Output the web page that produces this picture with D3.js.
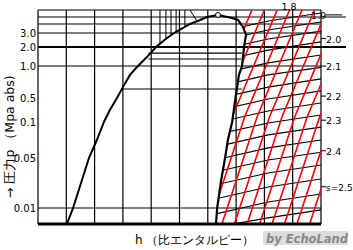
<!DOCTYPE html>
<html>
<head>
<meta charset="utf-8">
<script src="https://cdn.jsdelivr.net/npm/d3@7/dist/d3.min.js"></script>
<style>
  body { margin: 0; background: #fff; }
  text { font-family: "DejaVu Sans", sans-serif; }
</style>
</head>
<body>
<svg id="chart" width="353" height="250"></svg>
<script>
// enthalpy grid (no labels on the original, arbitrary units)
var hGrid = [0, 100, 200, 300, 400, 500, 600, 700, 800, 900, 1000];
// pressure (MPa abs)
var pGrid = [6, 5, 4, 3, 2, 1, 0.01];
var pTicks = [3.0, 2.0, 1.0, 0.5, 0.1, 0.05, 0.01];
var pTickLabels = ["3.0", "2.0", "1.0", "0.5", "0.1", "0.05", "0.01"];
var wetIsobars = [1.68, 1.37, 0.64];
var entropyLabels = ["1.8", "1.9", "2.0", "2.1", "2.2", "2.3", "2.4", "s=2.5"];

// saturated liquid line [h, p]
var satLiquid = [[102, 0.005], [124, 0.01], [180, 0.05], [208, 0.075], [233, 0.1],
  [254, 0.3], [279, 0.5], [300, 0.67], [325, 0.86], [353, 1], [385, 1.47], [417, 2],
  [456, 2.64], [481, 3], [505, 3.44], [537, 4], [573, 4.57], [597, 5], [636, 5.29]];
// saturated vapour line [h, p]
var satVapor = [[636, 5.29], [686, 4.86], [707, 4.57], [724, 3.67], [735, 2.86],
  [728, 2], [721, 1], [710, 0.86], [698, 0.5], [686, 0.1], [671, 0.075],
  [661, 0.05], [647, 0.032], [633, 0.01], [629, 0.005]];
var critical = [636, 5.29];

// compressed liquid isotherms near the top, [h at 6 MPa, h and p on liquid line]
var liqIso = [[431, 431, 2.23], [452, 452, 2.57], [470, 470, 2.85], [488, 488, 3.1],
  [519, 519, 3.7], [537, 562, 4.4]];

// superheat region lines, p at h = 625, 813, 1000
var shH = [625, 813, 1000];
var shLines = [
  [3.0, 4.43, 5.57], [2.36, 3.33, 4.29], [1.79, 2.57, 3.22], [1.21, 1.84, 2.36],
  [0.86, 1.16, 1.58], [0.67, 0.86, 0.98], [0.483, 0.67, 0.80], [0.283, 0.483, 0.61],
  [0.0986, 0.283, 0.417], [0.082, 0.0986, 0.217], [0.065, 0.082, 0.093],
  [0.0484, 0.064, 0.075], [0.0388, 0.0484, 0.058], [0.0284, 0.038, 0.0444],
  [0.0172, 0.0268, 0.0332], [0.0081, 0.0148, 0.0212], [0.004, 0.0069, 0.0094]];

// constant entropy lines, h at p = 0.005, 0.183, 6
var sP = [0.005, 0.183, 6];
var sLines = [
  [474, 597, 756], [518, 641, 800], [562, 686, 845], [606, 730, 889],
  [650, 774, 933], [694, 818, 977], [739, 862, 1021], [783, 907, 1066],
  [827, 951, 1110], [871, 995, 1154], [915, 1039, 1198], [960, 1083, 1242]];
// where the s labels sit (h, MPa)
var sLabelH = [860, 965, 1018, 1018, 1018, 1018, 1018, 1018];
var sLabelP = [6.6, 5.3, 2.6, 1.0, 0.53, 0.13, 0.06, 0.027];

var svg = d3.select("#chart");
var x = d3.scaleLinear().domain([0, 1000]).range([38, 321]);
// the original pressure axis is hand drawn, not a true log scale
var y = d3.scaleLinear()
  .domain([0.005, 0.01, 0.05, 0.1, 0.5, 1, 2, 3, 4, 5, 6])
  .range([224, 208, 158, 122, 98, 66, 47, 33, 24, 17, 10]);

var line = d3.line().x(function (d) { return x(d[0]); }).y(function (d) { return y(d[1]); });

// clip to superheat region: right of saturated vapour line
var clipPts = [[686, 6], [1000, 6], [1000, 0.005]].concat(satVapor.slice(1).reverse());
svg.append("clipPath").attr("id", "shclip")
  .append("path").attr("d", line(clipPts) + "Z");

var g = svg.append("g");

// grid
g.selectAll(".vgrid").data(hGrid).enter().append("line")
  .attr("x1", function (d) { return x(d); }).attr("x2", function (d) { return x(d); })
  .attr("y1", y(6)).attr("y2", y(0.005))
  .attr("stroke", "#000").attr("stroke-width", 1.2);
g.selectAll(".hgrid").data(pGrid).enter().append("line")
  .attr("x1", x(0))
  .attr("x2", function (d) { return (d === 2 || d === 5) ? x(1000) + 25 : x(1000); })
  .attr("y1", function (d) { return y(d); }).attr("y2", function (d) { return y(d); })
  .attr("stroke", "#000").attr("stroke-width", function (d) { return d === 2 ? 2 : 1.2; });

// isobars inside the dome
g.selectAll(".wet").data(wetIsobars).enter().append("line")
  .attr("x1", function (d) { return x(d > 1 ? 390 : 300); }).attr("x2", x(720))
  .attr("y1", function (d) { return y(d); }).attr("y2", function (d) { return y(d); })
  .attr("stroke", "#000").attr("stroke-width", 1.1);

// compressed liquid isotherms
g.selectAll(".liso").data(liqIso).enter().append("path")
  .attr("d", function (d) { return line([[d[0], 6], [d[1], d[2]]]); })
  .attr("fill", "none").attr("stroke", "#000").attr("stroke-width", 1);

// superheat lines
var sh = g.append("g").attr("clip-path", "url(#shclip)");
sh.selectAll(".shl").data(shLines).enter().append("path")
  .attr("d", function (d) { return line(d.map(function (p, i) { return [shH[i], p]; })); })
  .attr("fill", "none").attr("stroke", "#000").attr("stroke-width", 1.2);

// entropy lines
sh.selectAll(".sl").data(sLines).enter().append("path")
  .attr("d", function (d) { return line(d.map(function (h, i) { return [h, sP[i]]; })); })
  .attr("fill", "none").attr("stroke", "#f00").attr("stroke-width", 1.6);

// saturation dome
g.append("path").attr("d", line(satLiquid))
  .attr("fill", "none").attr("stroke", "#000").attr("stroke-width", 2);
g.append("path").attr("d", line(satVapor))
  .attr("fill", "none").attr("stroke", "#000").attr("stroke-width", 2.2);
g.append("circle").attr("cx", x(critical[0])).attr("cy", y(critical[1])).attr("r", 2.5)
  .attr("fill", "#fff").attr("stroke", "#000");

// bottom axis
g.append("line").attr("x1", x(0)).attr("x2", x(1000)).attr("y1", y(0.005)).attr("y2", y(0.005))
  .attr("stroke", "#000").attr("stroke-width", 3);

// y tick labels
g.selectAll(".ptick").data(pTicks).enter().append("text")
  .attr("x", 36).attr("y", function (d) { return y(d) + 4; })
  .attr("text-anchor", "end").attr("font-size", 10)
  .text(function (d, i) { return pTickLabels[i]; });

// entropy labels with short ticks
var sl = g.selectAll(".slab").data(entropyLabels).enter().append("g")
  .attr("transform", function (d, i) {
    return "translate(" + x(sLabelH[i]) + "," + y(sLabelP[i]) + ")";
  });
sl.append("text").attr("x", 0).attr("y", 4)
  .attr("font-size", function (d) { return d.length > 3 ? 9 : 9.5; })
  .text(function (d) { return d; });
sl.filter(function (d, i) { return i > 1; }).append("line")
  .attr("x1", -5).attr("x2", 0).attr("y1", 0).attr("y2", 0)
  .attr("stroke", "#000");
sl.filter(function (d, i) { return i === 1; }).append("line")
  .attr("x1", 15).attr("x2", 31).attr("y1", 0).attr("y2", 0)
  .attr("stroke", "#000");

// axis titles
svg.append("text").attr("x", 135).attr("y", 244).attr("font-size", 12)
  .text("h （比エンタルピー）");
svg.append("text").attr("transform", "translate(14,198) rotate(-90)")
  .attr("font-size", 12.5).text("→ 圧力p （Mpa abs)");

// credit
svg.append("rect").attr("x", 263).attr("y", 231).attr("width", 85).attr("height", 14).attr("fill", "#ddd");
svg.append("text").attr("x", 266).attr("y", 243).attr("font-size", 11.5)
  .attr("font-weight", "bold").attr("font-style", "italic").attr("fill", "#888")
  .text("by EchoLand");
</script>
</body>
</html>
